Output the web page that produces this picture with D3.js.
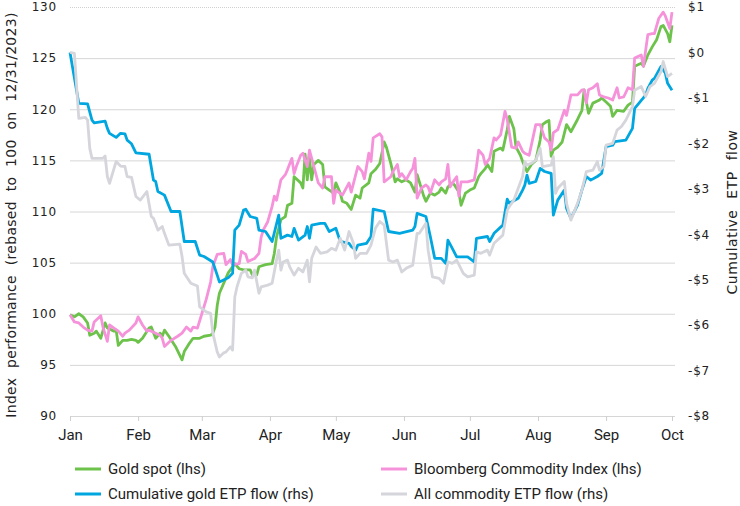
<!DOCTYPE html>
<html>
<head>
<meta charset="utf-8">
<script src="https://cdn.jsdelivr.net/npm/d3@7"></script>
<style>
  body { margin: 0; background: #fff; }
  svg { display: block; }
  .tick text { fill: #222; }
</style>
</head>
<body>
<svg id="chart" width="740" height="506"></svg>
<script>
// day offsets from 1 Jan 2024
var goldSpot = [[0,99.9],[2,99.7],[4,100.0],[6,99.7],[8,99.1],[9,97.9],[11,98.1],[12,98.3],[14,97.6],[16,99.1],[17,98.6],[20,98.3],[21,98.4],[22,96.9],[24,97.4],[26,97.4],[28,97.5],[30,97.4],[31,97.2],[33,97.6],[36,98.6],[37,98.7],[39,97.6],[41,98.1],[42,97.8],[43,98.4],[45,97.8],[48,96.8],[51,95.5],[52,96.3],[54,97.0],[56,97.6],[59,97.6],[61,97.8],[64,97.9],[65,98.1],[66,98.7],[67,100.8],[68,102.0],[71,103.5],[72,104.0],[74,104.6],[75,104.9],[77,104.4],[79,104.3],[82,104.3],[83,103.8],[85,103.8],[86,104.6],[89,104.8],[92,104.9],[93,105.9],[94,107.5],[96,109.2],[98,109.5],[99,110.6],[101,110.8],[102,113.4],[105,112.8],[106,112.3],[107,115.6],[108,113.1],[109,115.2],[110,113.1],[111,114.6],[113,115.0],[115,114.6],[116,112.4],[118,112.1],[120,111.8],[121,112.8],[123,111.8],[124,111.0],[126,110.8],[128,110.2],[130,111.6],[132,111.3],[133,112.3],[136,112.8],[137,113.7],[139,114.1],[141,114.7],[143,116.8],[144,116.3],[146,114.7],[148,112.9],[149,113.2],[151,112.9],[153,113.1],[155,112.8],[157,111.9],[158,113.6],[161,111.5],[162,111.0],[164,111.8],[166,111.6],[168,111.9],[169,112.3],[171,111.8],[172,112.4],[174,112.8],[175,112.6],[177,111.9],[178,110.6],[180,111.8],[182,112.1],[184,112.3],[186,113.4],[187,113.7],[189,114.2],[190,114.6],[192,113.9],[193,115.9],[196,116.2],[197,116.0],[199,118.0],[200,119.3],[202,118.1],[203,116.3],[205,115.5],[206,114.9],[208,113.9],[210,114.6],[212,115.0],[214,117.0],[215,118.5],[217,118.8],[218,118.9],[219,115.4],[220,116.0],[222,116.3],[224,116.8],[226,118.5],[228,117.8],[231,119.0],[233,119.9],[234,121.9],[236,119.6],[238,120.6],[241,120.9],[242,121.1],[244,120.7],[246,120.3],[247,119.3],[249,119.9],[252,119.8],[254,120.4],[256,120.7],[257,124.2],[260,124.5],[261,124.2],[263,125.3],[265,126.1],[267,126.8],[269,128.1],[270,128.2],[272,127.4],[273,126.6],[274,128.2]];

var bcomIndex = [[0,99.9],[2,99.2],[4,99.1],[6,98.7],[8,98.4],[10,98.3],[11,99.2],[14,99.8],[15,98.7],[17,97.3],[18,98.9],[20,98.6],[22,98.3],[24,97.8],[25,98.1],[27,98.4],[30,99.1],[31,99.7],[33,98.9],[35,98.3],[36,98.4],[39,98.1],[41,97.9],[42,97.6],[43,96.8],[46,97.4],[49,97.8],[51,98.1],[53,98.7],[55,98.3],[56,98.7],[58,98.6],[60,100.0],[62,101.4],[64,103.1],[65,104.6],[67,105.8],[70,105.9],[71,104.8],[73,105.3],[74,104.8],[77,104.9],[78,106.1],[80,105.8],[81,105.1],[84,105.4],[86,105.9],[87,107.5],[88,108.2],[90,109.0],[92,110.5],[93,111.5],[94,111.1],[96,113.1],[98,113.6],[99,114.1],[101,115.2],[102,113.7],[103,114.4],[105,115.5],[106,115.7],[108,114.4],[109,116.0],[111,114.4],[113,112.8],[115,112.3],[116,113.4],[119,113.4],[120,110.8],[121,112.1],[124,111.6],[127,112.8],[128,111.9],[131,114.4],[133,113.9],[134,113.2],[136,115.7],[137,114.9],[138,117.2],[141,117.6],[142,117.3],[143,112.9],[146,113.4],[147,113.9],[149,114.6],[150,113.4],[151,113.7],[153,113.1],[155,113.9],[156,114.2],[157,115.2],[158,111.3],[160,112.3],[162,112.6],[163,112.4],[164,111.8],[166,113.1],[168,112.6],[169,112.9],[171,113.2],[172,114.6],[173,112.4],[175,113.1],[176,113.4],[177,111.5],[178,112.9],[181,112.9],[184,113.1],[185,114.4],[186,116.0],[188,115.5],[189,114.6],[191,115.2],[193,117.2],[194,117.0],[196,117.5],[198,119.8],[199,119.0],[201,116.3],[203,116.2],[204,116.8],[206,115.9],[207,115.7],[209,115.5],[212,118.5],[214,118.5],[216,117.2],[218,116.8],[219,116.0],[220,117.7],[222,118.0],[225,119.9],[226,119.4],[228,121.4],[231,121.4],[233,121.9],[234,121.9],[235,120.6],[236,121.9],[238,122.1],[240,122.5],[241,121.4],[243,121.2],[245,121.1],[247,120.9],[249,122.1],[250,121.1],[252,121.2],[254,122.1],[256,121.9],[257,125.0],[260,125.3],[261,124.2],[263,127.3],[265,127.4],[266,127.4],[268,128.9],[270,129.5],[271,129.1],[273,127.9],[274,129.5]];

// cumulative flows, $bn
var goldEtpFlow = [[0,0.0],[4,-1.12],[8,-1.13],[10,-1.49],[11,-1.55],[16,-1.51],[17,-1.67],[18,-1.78],[21,-1.87],[23,-1.78],[25,-1.79],[26,-1.93],[28,-2.01],[30,-2.21],[36,-2.24],[38,-2.81],[39,-2.84],[40,-3.06],[43,-3.14],[46,-3.50],[50,-3.50],[52,-4.16],[57,-4.16],[59,-4.46],[61,-4.49],[65,-4.61],[67,-4.90],[68,-5.05],[72,-4.96],[74,-4.86],[75,-3.91],[77,-3.80],[79,-3.47],[80,-3.45],[82,-3.61],[85,-3.65],[86,-3.91],[89,-3.94],[92,-4.16],[95,-3.58],[96,-4.09],[99,-4.02],[101,-4.05],[102,-3.87],[104,-4.13],[107,-4.02],[108,-3.83],[109,-4.09],[110,-3.80],[114,-3.76],[116,-3.76],[118,-3.94],[121,-3.87],[123,-4.16],[127,-4.20],[128,-4.27],[130,-4.35],[131,-4.24],[135,-4.20],[137,-4.05],[138,-3.45],[140,-3.47],[143,-3.50],[145,-3.94],[150,-3.98],[156,-3.91],[157,-3.83],[158,-3.54],[162,-3.61],[164,-4.05],[166,-4.53],[169,-4.53],[171,-4.64],[172,-4.13],[174,-4.31],[176,-4.50],[181,-4.50],[184,-4.61],[185,-4.09],[190,-4.05],[191,-4.16],[193,-3.98],[197,-3.80],[199,-3.23],[200,-3.32],[204,-3.21],[206,-3.03],[207,-2.92],[208,-2.70],[209,-2.88],[212,-2.84],[214,-2.55],[216,-2.62],[219,-2.66],[220,-3.58],[222,-3.25],[225,-3.03],[226,-3.43],[228,-3.65],[231,-3.36],[233,-3.03],[235,-2.73],[237,-2.81],[240,-2.73],[242,-2.66],[244,-2.07],[247,-2.04],[248,-1.96],[253,-1.93],[256,-1.67],[257,-1.23],[262,-0.94],[263,-0.79],[265,-0.61],[266,-0.57],[269,-0.31],[271,-0.46],[272,-0.68],[274,-0.83]];

var allEtpFlow = [[0,0.0],[2,-0.02],[4,-1.45],[7,-1.43],[8,-1.49],[9,-2.11],[10,-2.33],[15,-2.33],[16,-2.28],[17,-2.73],[18,-2.88],[21,-2.40],[23,-2.50],[25,-2.51],[26,-2.73],[28,-2.75],[30,-3.17],[32,-3.25],[35,-3.06],[37,-3.61],[38,-3.65],[40,-3.91],[42,-3.83],[43,-3.98],[45,-4.24],[50,-4.22],[51,-4.49],[52,-4.86],[55,-5.08],[58,-5.14],[59,-5.60],[62,-5.71],[64,-5.74],[65,-6.17],[67,-6.59],[68,-6.70],[70,-6.61],[71,-6.59],[73,-6.48],[74,-6.55],[75,-5.38],[76,-5.16],[78,-4.86],[80,-4.79],[81,-4.94],[83,-4.96],[84,-4.79],[86,-5.30],[87,-5.16],[90,-5.12],[92,-5.08],[94,-4.57],[95,-4.35],[96,-4.79],[97,-4.61],[99,-4.57],[100,-4.72],[102,-4.90],[104,-4.75],[106,-4.83],[108,-4.57],[109,-5.05],[110,-4.53],[112,-4.28],[114,-4.42],[117,-4.39],[119,-4.31],[121,-4.35],[123,-4.09],[125,-4.35],[127,-3.94],[129,-4.20],[130,-4.53],[132,-4.42],[135,-4.42],[137,-4.24],[139,-3.87],[141,-3.72],[143,-3.80],[145,-4.57],[147,-4.61],[149,-4.57],[151,-4.83],[153,-4.75],[156,-4.68],[158,-3.98],[159,-3.98],[162,-3.76],[163,-4.35],[165,-4.94],[168,-4.97],[170,-5.08],[172,-4.61],[174,-4.64],[176,-4.57],[179,-4.86],[181,-4.94],[184,-4.90],[185,-4.39],[187,-4.42],[190,-4.35],[191,-4.46],[193,-4.20],[197,-4.02],[199,-3.47],[200,-3.39],[202,-3.25],[204,-2.99],[206,-2.73],[207,-2.40],[208,-2.48],[210,-2.44],[212,-2.37],[214,-2.11],[215,-2.51],[219,-2.48],[220,-2.29],[221,-3.10],[222,-2.99],[225,-2.84],[226,-3.32],[228,-3.69],[231,-3.32],[233,-3.03],[235,-2.62],[238,-2.59],[240,-2.40],[241,-2.59],[243,-2.51],[244,-2.04],[247,-2.00],[249,-1.71],[251,-1.63],[253,-1.49],[256,-1.19],[257,-0.83],[260,-0.75],[262,-0.97],[264,-0.75],[266,-0.68],[269,-0.42],[270,-0.20],[272,-0.53],[274,-0.46]];

var leftTicks = [90, 95, 100, 105, 110, 115, 120, 125, 130];
var rightTicks = [-8, -7, -6, -5, -4, -3, -2, -1, 0, 1];
var monthLabels = ["Jan", "Feb", "Mar", "Apr", "May", "Jun", "Jul", "Aug", "Sep", "Oct"];

var series = [
    {name: "Gold spot (lhs)", data: goldSpot, axis: "left", color: "#6cc24a"},
    {name: "Bloomberg Commodity Index (lhs)", data: bcomIndex, axis: "left", color: "#f592da"},
    {name: "Cumulative gold ETP flow (rhs)", data: goldEtpFlow, axis: "right", color: "#00a6df"},
    {name: "All commodity ETP flow (rhs)", data: allEtpFlow, axis: "right", color: "#d5d5dc"}
];

var svg = d3.select("#chart");
var start = Date.UTC(2024, 0, 1);
function dayToDate(d) { return new Date(start + d * 864e5); }

var x = d3.scaleUtc()
    .domain([dayToDate(0), new Date(Date.UTC(2024, 9, 1))])
    .range([70, 672]);
var yL = d3.scaleLinear().domain([90, 130]).range([416, 7]);
var yR = d3.scaleLinear().domain([-8, 1]).range([416, 7]);

// gridlines
var grid = svg.append("g")
    .attr("transform", "translate(70,0)")
    .call(d3.axisLeft(yL).tickValues(leftTicks).tickSize(-605).tickFormat(""));
grid.select(".domain").remove();
grid.selectAll("line").attr("stroke", "#d6d6d6");
grid.selectAll(".tick").filter(function(d) { return d === 130; })
    .select("line").attr("stroke-dasharray", "1,1").attr("stroke", "#cfcfcf");

// left axis labels
var left = svg.append("g")
    .attr("transform", "translate(70,0)")
    .call(d3.axisLeft(yL).tickValues(leftTicks).tickSize(0).tickPadding(13));
left.select(".domain").remove();
left.selectAll("text")
    .style("font-family", "DejaVu Sans, Verdana, sans-serif")
    .style("font-size", "12px")
    .style("letter-spacing", "0.8px");

// right axis labels
var right = svg.append("g")
    .attr("transform", "translate(672,0)")
    .call(d3.axisRight(yR).tickValues(rightTicks).tickSize(0).tickPadding(16)
        .tickFormat(function(d) { return (d < 0 ? "-" : "") + "$" + Math.abs(d); }));
right.select(".domain").remove();
right.selectAll("text")
    .style("font-family", "DejaVu Sans, Verdana, sans-serif")
    .style("font-size", "12px")
    .style("letter-spacing", "0.8px");

// month axis
var bottom = svg.append("g")
    .attr("transform", "translate(0,416)")
    .call(d3.axisBottom(x).ticks(d3.utcMonth.every(1)).tickSize(5).tickPadding(8)
        .tickFormat(function(d) { return monthLabels[d.getUTCMonth()]; }));
bottom.select(".domain").remove();
bottom.selectAll("line").attr("stroke", "#cfcfcf");
bottom.selectAll("text")
    .style("font-family", "Roboto, sans-serif")
    .style("font-size", "15px");

// lines
series.forEach(function(s) {
    var y = s.axis === "left" ? yL : yR;
    var line = d3.line()
        .x(function(d) { return x(dayToDate(d[0])); })
        .y(function(d) { return y(d[1]); });
    svg.append("path")
        .datum(s.data)
        .attr("fill", "none")
        .attr("stroke", s.color)
        .attr("stroke-width", 2.8)
        .attr("stroke-linejoin", "round")
        .attr("d", line);
});

// axis titles
svg.append("text")
    .attr("transform", "translate(16,215) rotate(-90)")
    .attr("text-anchor", "middle")
    .style("font-family", "DejaVu Sans, Verdana, sans-serif")
    .style("font-size", "14px")
    .style("letter-spacing", "0.3px")
    .style("word-spacing", "5px")
    .attr("fill", "#222")
    .text("Index performance (rebased to 100 on 12/31/2023)");

svg.append("text")
    .attr("transform", "translate(737,212) rotate(-90)")
    .attr("text-anchor", "middle")
    .style("font-family", "DejaVu Sans, Verdana, sans-serif")
    .style("font-size", "14px")
    .style("letter-spacing", "0.5px")
    .style("word-spacing", "6px")
    .attr("fill", "#222")
    .text("Cumulative ETP flow");

// legend, two columns
var legendPos = [[75, 469], [381, 469], [75, 494], [381, 494]];
var legend = svg.selectAll(".legend")
    .data(series)
    .enter().append("g")
    .attr("class", "legend")
    .attr("transform", function(d, i) { return "translate(" + legendPos[i][0] + "," + legendPos[i][1] + ")"; });
legend.append("line")
    .attr("x1", 0).attr("x2", 26)
    .attr("stroke", function(d) { return d.color; })
    .attr("stroke-width", 3);
legend.append("text")
    .attr("x", 33)
    .attr("dy", "0.35em")
    .style("font-family", "Roboto, sans-serif")
    .style("font-size", "15px")
    .attr("fill", "#222")
    .text(function(d) { return d.name; });
</script>
</body>
</html>
